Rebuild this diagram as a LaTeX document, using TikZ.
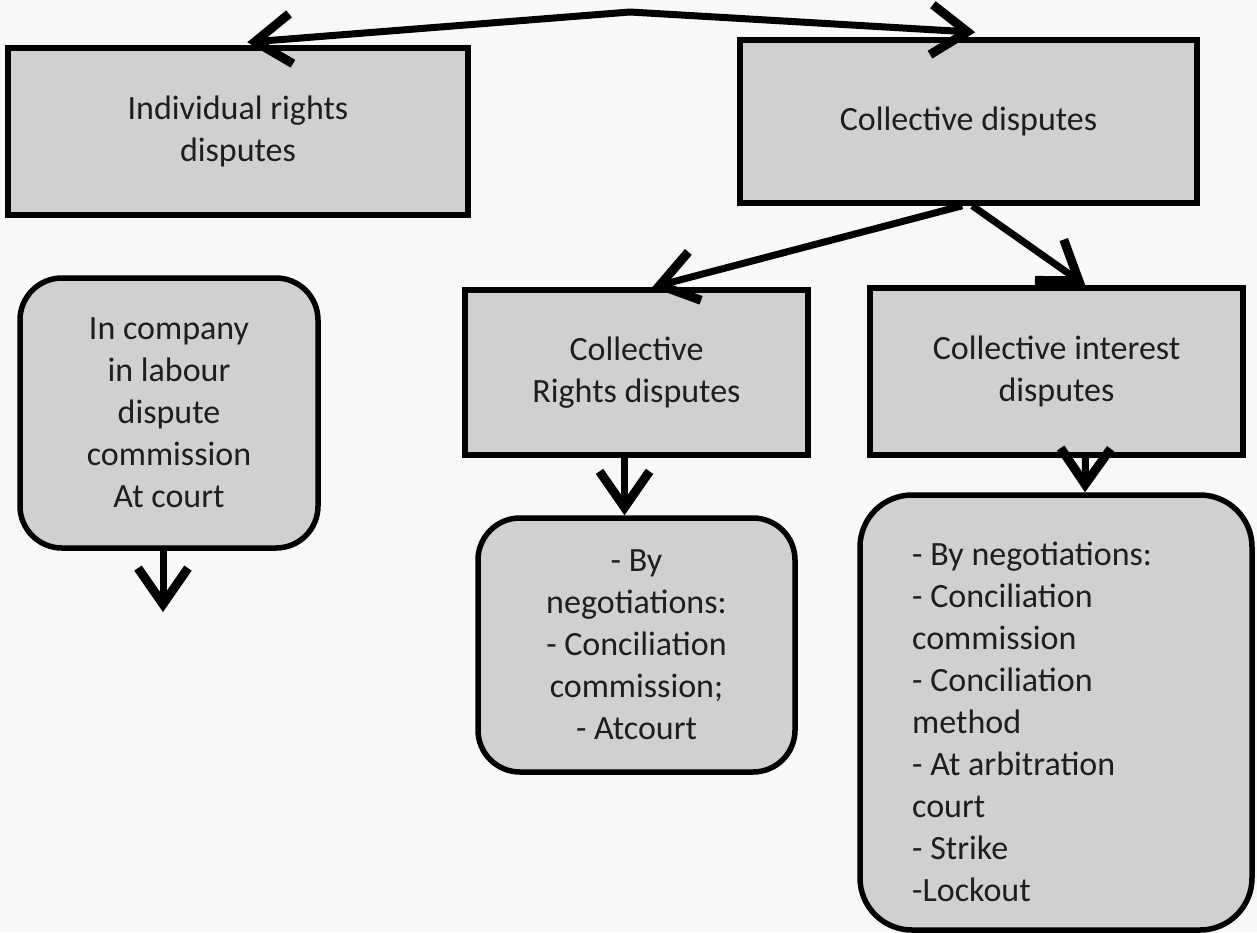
\documentclass[tikz,border=0pt]{standalone}
\usepackage{fontspec}
\setmainfont{Carlito}
\usetikzlibrary{arrows.meta,calc}
\definecolor{boxfill}{HTML}{D0D0D0}
\definecolor{bgcol}{HTML}{F8F8F8}
\definecolor{txt}{HTML}{1E1E1E}
\begin{document}
\begin{tikzpicture}[x=1pt,y=-1pt,
  every node/.style={font=\fontsize{34}{42}\selectfont, text=txt},
  sqbox/.style={draw=black, line width=5.5pt, fill=boxfill, rectangle, align=center, inner sep=0pt},
  rndbox/.style={draw=black, line width=5.5pt, fill=boxfill, rectangle, rounded corners=42pt, align=center, inner sep=0pt},
  conn/.style={line width=7pt, black, -{Straight Barb[length=36pt,width=50pt,line width=9pt]}}
]
\fill[bgcol] (0,0) rectangle (1257,932);
\useasboundingbox (0,0) rectangle (1257,932);

\node[sqbox, minimum width=460pt, minimum height=167pt] (A) at (238,131.5) {Individual rights\\disputes};
\node[sqbox, minimum width=457pt, minimum height=163pt] (B) at (968.5,121.5) {Collective disputes};
\node[rndbox, minimum width=298pt, minimum height=270pt] (C) at (169,413) {In company\\in labour\\dispute\\commission\\At court};
\node[sqbox, minimum width=343pt, minimum height=165pt] (D) at (636.5,372.5) {Collective\\Rights disputes};
\node[sqbox, minimum width=373pt, minimum height=167pt] (E) at (1056.5,371.5) {Collective interest\\disputes};
\node[rndbox, minimum width=317pt, minimum height=254pt] (F) at (636.5,645) {- By\\negotiations:\\- Conciliation\\commission;\\- Atcourt};
\node[rndbox, rounded corners=52pt, minimum width=392pt, minimum height=435pt] (G) at (1056,712.5) {};
\node[anchor=west, align=left, inner sep=0pt] (Gtext) at (912,722) {- By negotiations:\\- Conciliation\\commission\\- Conciliation\\method\\- At arbitration\\court\\- Strike\\-Lockout};

\coordinate (apex) at (630,12);
\coordinate (Cend) at (163,612);

\draw[conn] (apex) -- ($(A.north west)+(242,-3)$);
\draw[conn] (apex) -- ($(B.north west)+(238,-5)$);
\draw[conn] ($(B.south west)+(225,0)$) -- ($(D.north west)+(190,0)$);
\draw[conn] ($(B.south west)+(235,0)$) -- ($(E.north west)+(218,0)$);
\draw[conn] ($(C.south)+(-6,0)$) -- (Cend);
\draw[conn] ($(D.south)+(-12,0)$) -- ($(F.north)+(-12,0)$);
\draw[conn] ($(E.south)+(29,0)$) -- ($(G.north)+(29,0)$);
\end{tikzpicture}
\end{document}
